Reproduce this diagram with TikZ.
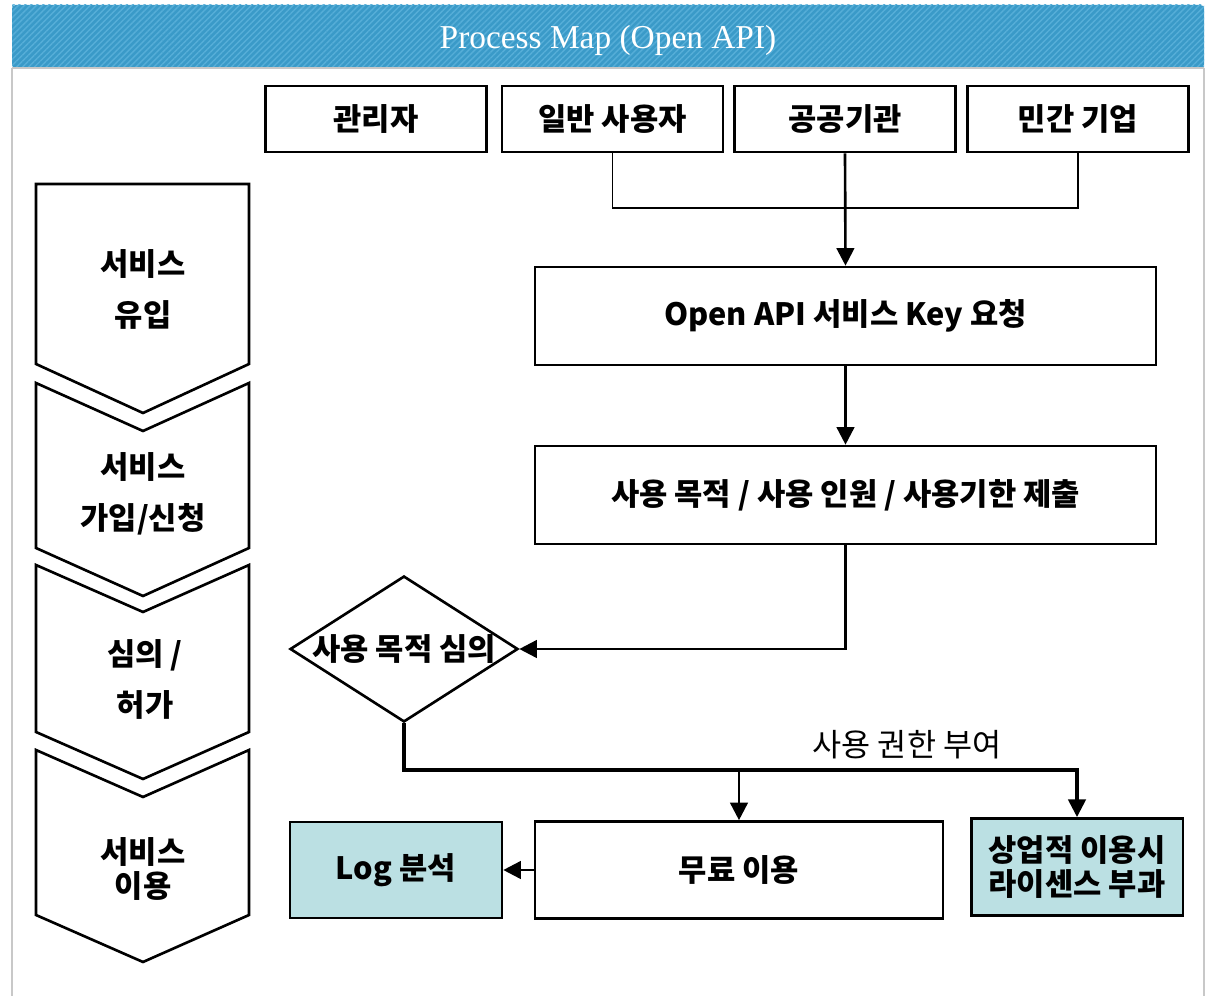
\documentclass[tikz,border=0pt]{standalone}
\usepackage{fontspec}
\setmainfont{Liberation Serif}
\newfontfamily\krfont{Noto Sans CJK KR}
\usetikzlibrary{shapes.geometric,arrows.meta,patterns.meta}
\definecolor{headblue}{RGB}{58,154,200}
\definecolor{headstripe}{RGB}{86,174,216}
\definecolor{framegray}{RGB}{200,200,200}
\definecolor{lightteal}{RGB}{187,224,227}

\begin{document}
\begin{tikzpicture}[x=0.02cm, y=-0.02cm,
	role/.style={ draw, line width=1.5pt, fill=white, inner sep=0pt, minimum width=4.42cm, minimum height=1.32cm, font=\krfont\bfseries\fontsize{17.5}{20}\selectfont },
	stepbox/.style={ draw, line width=1.5pt, fill=white, inner sep=0pt, minimum width=12.42cm, minimum height=1.96cm, font=\krfont\bfseries\fontsize{17.5}{20}\selectfont },
	resbox/.style={ draw, line width=1.5pt, inner sep=0pt, minimum height=1.94cm, align=center, font=\krfont\bfseries\fontsize{17.5}{19}\selectfont },
	check/.style={ diamond, draw, line width=1.5pt, inner sep=0pt, minimum width=4.56cm, minimum height=2.92cm },
	chev/.style={ draw, line width=1.5pt, fill=white, line join=miter },
	stagetxt/.style={ align=center, inner sep=0pt, font=\krfont\bfseries\fontsize{17.5}{29}\selectfont },
	arr/.style={ line width=1.5pt, -{Triangle[length=10pt,width=10pt,line width=1.5pt]} },
	link/.style={ line width=1.1pt }
]
\useasboundingbox (0,0) rectangle (1210,996);

% header bar and frame
\fill[headblue, rounded corners=2pt] (12,5) rectangle (1204,68);
\fill[pattern={Lines[angle=45,distance=2.4pt,line width=0.8pt]}, pattern color=headstripe] (12,5) rectangle (1204,68);
\node at (608,40) (title) [white, font=\fontsize{19}{22}\selectfont] {Process Map (Open API)};
\draw[framegray, line width=1.6pt] (12,68) -- (1204,68);
\draw[framegray, line width=1.6pt] (12,68) -- (12,996);
\draw[framegray, line width=1.6pt] (1204,68) -- (1204,996);

% stages on the left
\draw[chev] (36,184) -- (249,184) -- (249,364) -- (143,413) -- (36,364) -- cycle;
\draw[chev] (36,383) -- (143,431) -- (249,383) -- (249,548) -- (143,596) -- (36,548) -- cycle;
\draw[chev] (36,565) -- (143,612) -- (249,565) -- (249,732) -- (143,779) -- (36,732) -- cycle;
\draw[chev] (36,750) -- (143,797) -- (249,750) -- (249,915) -- (143,962) -- (36,915) -- cycle;
\node at (143,289) (inflow) [stagetxt] {서비스\\유입};
\node at (143,494) (signup) [stagetxt] {서비스\\가입/신청};
\node at (145,679) (review) [stagetxt] {심의 /\\허가};
\node at (143,869) (usage) [stagetxt, font=\krfont\bfseries\fontsize{17.5}{19}\selectfont] {서비스\\이용};

% user groups
\node at (376,119) (admin) [role] {관리자};
\node at (612.5,119) (user) [role] {일반 사용자};
\node at (845,119) (public) [role] {공공기관};
\node at (1078,119) (corp) [role] {민간 기업};
\coordinate (merge) at (845,208);
\draw[link] (user.south) |- (merge) -| (corp.south);

% request flow
\node at (845.5,316) (keyreq) [stepbox] {Open API 서비스 Key 요청};
\node at (845.5,495) (submit) [stepbox] {사용 목적 / 사용 인원 / 사용기한 제출};
\node at (404,649) (purpose) [check, label={center:{\krfont\bfseries\fontsize{17.5}{20}\selectfont 사용 목적 심의}}] {};
\draw[arr] (public.south) -- (keyreq.north);
\draw[arr] (keyreq.south) -- (submit.north);
\draw[arr] (submit.south) |- (purpose.east);

% results
\node at (739,870) (free) [resbox, fill=white, minimum width=8.16cm] {무료 이용};
\node at (396,870) (logan) [resbox, fill=lightteal, minimum width=4.24cm, minimum height=1.92cm] {Log 분석};
\node at (1077,867) (license) [resbox, fill=lightteal, line width=1.7pt, minimum width=4.24cm] {상업적 이용시\\라이센스 부과};
\coordinate (fork) at (739,770);
\draw[arr, line width=2.1pt] (purpose.south) |- (fork) -| (license.north);
\draw[arr] (fork) -- (free.north);
\draw[arr] (free.west) -- (logan.east);
\node at (907,745) (grant) [font=\krfont\fontsize{18}{20}\selectfont] {사용 권한 부여};

\end{tikzpicture}
\end{document}
